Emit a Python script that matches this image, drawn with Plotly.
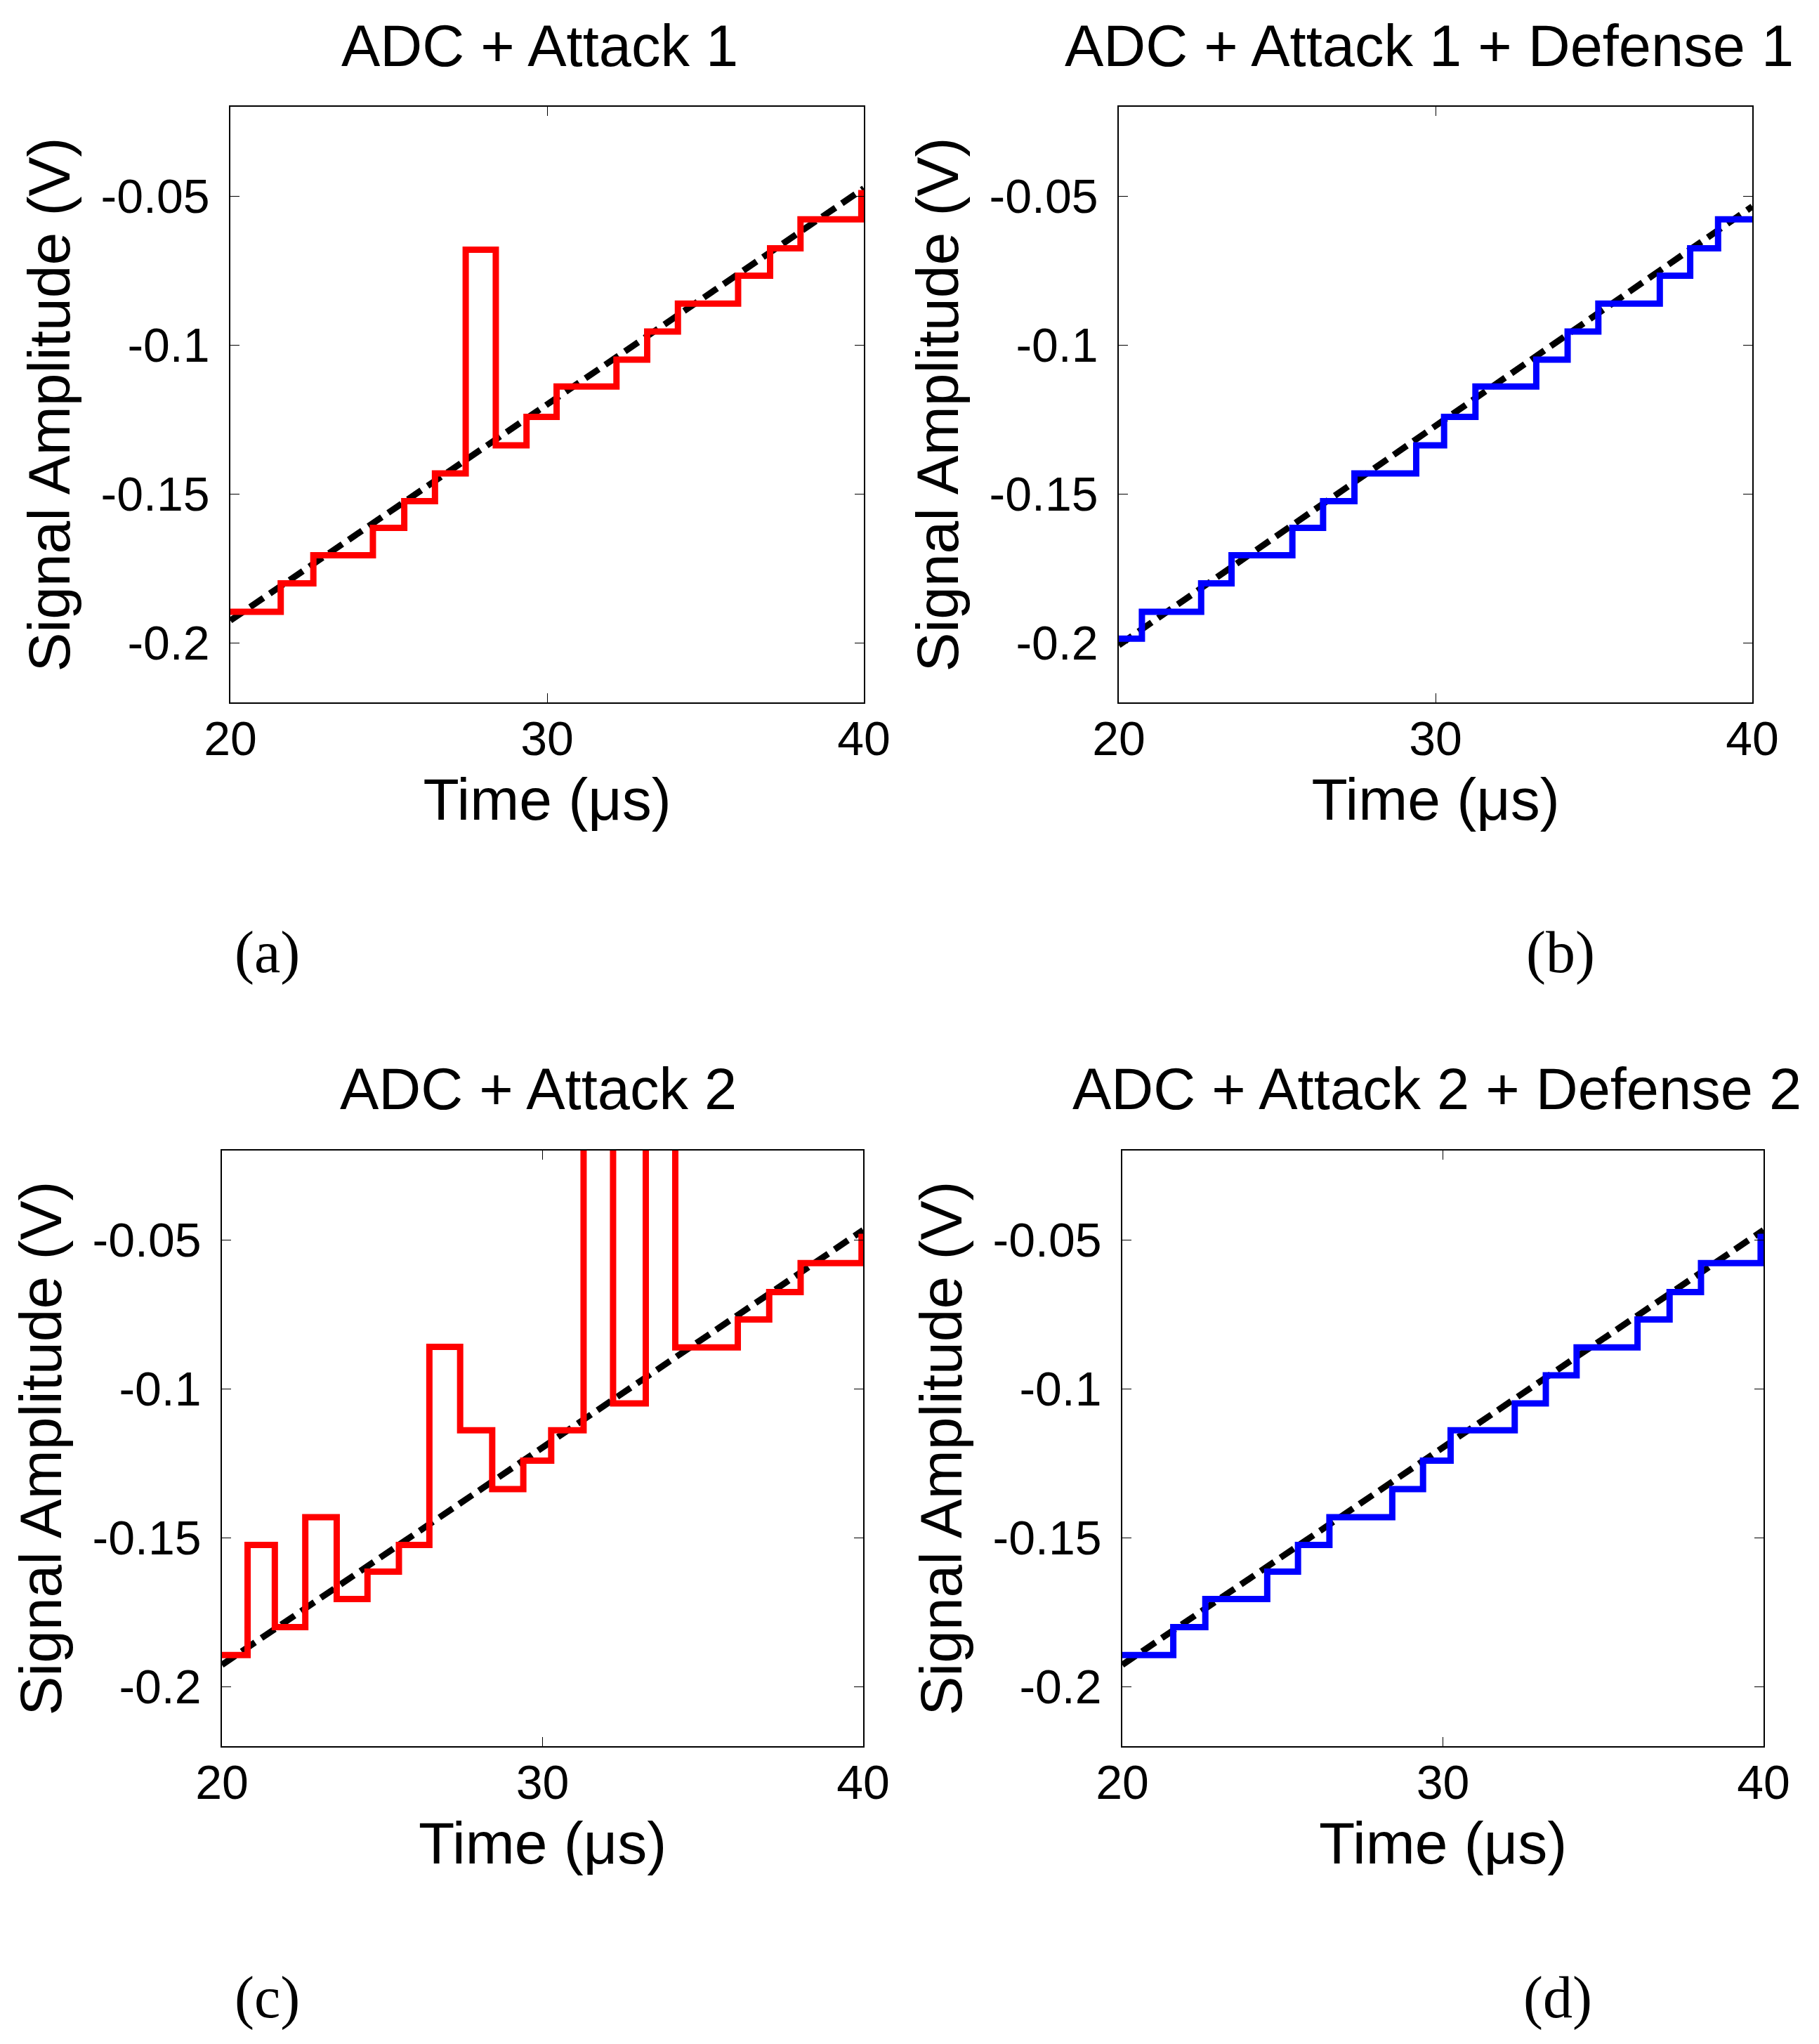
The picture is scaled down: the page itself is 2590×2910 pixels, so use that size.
import plotly.graph_objects as go

# ---------------- data ----------------
x_range = [20, 40]
y_range = [-0.22, -0.02]
x_tickvals = [20, 30, 40]
x_ticktext = ["20", "30", "40"]
y_tickvals = [-0.2, -0.15, -0.1, -0.05]
y_ticktext = ["-0.2", "-0.15", "-0.1", "-0.05"]

titles = ["ADC + Attack 1", "ADC + Attack 1 + Defense 1",
          "ADC + Attack 2", "ADC + Attack 2 + Defense 2"]
panel_labels = ["(a)", "(b)", "(c)", "(d)"]
x_title = "Time (μs)"
y_title = "Signal Amplitude (V)"

# reference ramp (dashed black): endpoints at t = 20 and t = 40
ref_t = [20, 40]
ref_a = [-0.1925, -0.0474]
ref_b = [-0.2008, -0.0535]
ref_c = [-0.1927, -0.0467]
ref_d = [-0.1927, -0.0467]

# (a) ADC + Attack 1 (step changes)
t_a = [20, 21.59, 22.62, 24.50, 25.49, 26.46, 27.43, 28.38, 29.35, 30.30,
       32.19, 33.16, 34.13, 36.03, 37.04, 38.00, 39.92, 40]
v_a = [-0.1896, -0.1800, -0.1706, -0.1614, -0.1524, -0.1431, -0.0680, -0.1337,
       -0.1241, -0.1139, -0.1049, -0.0955, -0.0861, -0.0767, -0.0675, -0.0578,
       -0.0490, -0.0490]

# (b) ADC + Attack 1 + Defense 1
t_b = [20, 20.73, 22.60, 23.56, 25.48, 26.45, 27.44, 29.39, 30.27, 31.26,
       33.18, 34.17, 35.14, 37.08, 38.04, 38.92, 40]
v_b = [-0.1986, -0.1896, -0.1800, -0.1706, -0.1614, -0.1524, -0.1431, -0.1337,
       -0.1241, -0.1139, -0.1049, -0.0955, -0.0861, -0.0767, -0.0675, -0.0578,
       -0.0578]

# (c) ADC + Attack 2 (two spikes run off the top of the axes)
t_c = [20, 20.80, 21.65, 22.60, 23.58, 24.54, 25.52, 26.47, 27.43, 28.43,
       29.40, 30.27, 31.28, 32.20, 33.22, 34.14, 36.09, 37.07, 38.05, 39.95, 40]
v_c = [-0.1894, -0.1524, -0.1800, -0.1431, -0.1706, -0.1614, -0.1524, -0.0859,
       -0.1139, -0.1337, -0.1241, -0.1139, 0.05, -0.1049, 0.05, -0.0861,
       -0.0767, -0.0675, -0.0578, -0.0490, -0.0490]

# (d) ADC + Attack 2 + Defense 2
t_d = [20, 21.59, 22.59, 24.52, 25.48, 26.46, 28.42, 29.38, 30.24, 32.24,
       33.21, 34.17, 36.07, 37.07, 38.05, 39.91, 40]
v_d = [-0.1894, -0.1800, -0.1706, -0.1614, -0.1524, -0.1431, -0.1337, -0.1241,
       -0.1139, -0.1049, -0.0955, -0.0861, -0.0767, -0.0675, -0.0578, -0.0490,
       -0.0490]

# ---------------- layout geometry (pixels) ----------------
W, H = 2590, 2910
# plot areas: (left, right, top, bottom)
boxes = [(328, 1230, 152, 1000),
         (1593, 2495, 152, 1000),
         (316, 1229, 1638, 2486),
         (1598, 2511, 1638, 2486)]
title_pos = [(769, 65), (2035, 65), (766, 1550), (2046, 1550)]
label_pos = [(380, 1356), (2222, 1356), (380, 2844), (2218, 2844)]

series = [(t_a, v_a, ref_a, "#FF0000"),
          (t_b, v_b, ref_b, "#0000FF"),
          (t_c, v_c, ref_c, "#FF0000"),
          (t_d, v_d, ref_d, "#0000FF")]

SANS = "Liberation Sans, Arial, sans-serif"
SERIF = "Liberation Serif, Times New Roman, serif"

fig = go.Figure()
layout = dict(
    width=W, height=H,
    margin=dict(l=0, r=0, t=0, b=0, pad=0, autoexpand=False),
    paper_bgcolor="white", plot_bgcolor="white",
    showlegend=False,
    font=dict(family=SANS, color="black"),
)
annotations = []

for i, (t, v, ref, col) in enumerate(series):
    n = "" if i == 0 else str(i + 1)
    xa, ya = "x" + n, "y" + n
    fig.add_trace(go.Scatter(x=ref_t, y=ref, mode="lines", xaxis=xa, yaxis=ya,
                             line=dict(color="black", width=9, dash="23px,11px"),
                             hoverinfo="skip"))
    fig.add_trace(go.Scatter(x=t, y=v, mode="lines", xaxis=xa, yaxis=ya,
                             line=dict(color=col, width=9, shape="hv")))
    l, r, tp, bt = boxes[i]
    common = dict(showgrid=False, zeroline=False, showline=True, linecolor="black",
                  linewidth=1.6, mirror="ticks", ticks="inside", ticklen=13,
                  tickwidth=1.2, tickcolor="black", automargin=False,
                  tickfont=dict(family=SANS, size=68, color="black"))
    layout["xaxis" + n] = dict(
        common, domain=[l / W, r / W], anchor=ya, range=x_range,
        tickmode="array", tickvals=x_tickvals, ticktext=x_ticktext,
        ticklabelstandoff=-8,
        title=dict(text=x_title, font=dict(family=SANS, size=84), standoff=20))
    layout["yaxis" + n] = dict(
        common, domain=[1 - bt / H, 1 - tp / H], anchor=xa, range=y_range,
        tickmode="array", tickvals=y_tickvals, ticktext=y_ticktext,
        ticklabelstandoff=14,
        title=dict(text=y_title, font=dict(family=SANS, size=84), standoff=16))
    tx, ty = title_pos[i]
    annotations.append(dict(text=titles[i], x=tx / W, y=1 - ty / H, xref="paper",
                            yref="paper", xanchor="center", yanchor="middle",
                            showarrow=False, font=dict(family=SANS, size=83)))
    lx, ly = label_pos[i]
    annotations.append(dict(text=panel_labels[i], x=lx / W, y=1 - ly / H,
                            xref="paper", yref="paper", xanchor="center",
                            yanchor="middle", showarrow=False,
                            font=dict(family=SERIF, size=84)))

layout["annotations"] = annotations
fig.update_layout(**layout)

fig.write_html("out.html", include_plotlyjs=True,
               config=dict(displayModeBar=False),
               post_script="document.body.style.margin='0';")
